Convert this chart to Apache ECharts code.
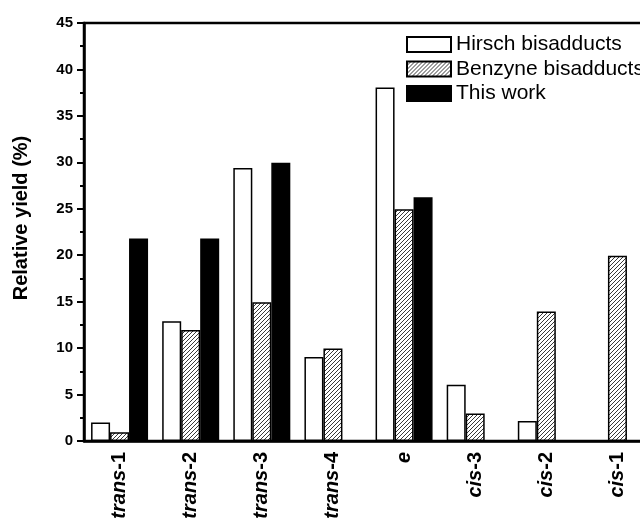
<!DOCTYPE html>
<html>
<head>
<meta charset="utf-8">
<script src="https://cdn.jsdelivr.net/npm/echarts@6/dist/echarts.min.js"></script>
<style>
  html, body { margin: 0; padding: 0; background: #fff; overflow: hidden; }
  #chart { width: 640px; height: 518px; }
</style>
</head>
<body>
<div id="chart"></div>
<script>
  // categories: [italic part, plain suffix]
  const categories = [
    ['trans', '-1'], ['trans', '-2'], ['trans', '-3'], ['trans', '-4'],
    ['e', ''], ['cis', '-3'], ['cis', '-2'], ['cis', '-1']
  ];
  const hirsch  = [2, 12.9, 29.4, 9.05, 38.05, 6.05, 2.15, '-'];
  const benzyne = [0.95, 11.95, 14.95, 9.95, 24.95, 2.95, 13.95, 19.95];
  const thisWork = [21.8, 21.8, 29.95, '-', 26.25, '-', '-', '-'];
  const seriesNames = ['Hirsch bisadducts', 'Benzyne bisadducts', 'This work'];

  const FONT = '"Liberation Sans", Arial, sans-serif';

  // hatch pattern ////
  function hatch () {
    const s = 4;
    const c = document.createElement('canvas');
    c.width = s; c.height = s;
    const g = c.getContext('2d');
    g.fillStyle = '#fff';
    g.fillRect(0, 0, s, s);
    g.strokeStyle = '#222';
    g.lineWidth = 0.9;
    g.beginPath();
    g.moveTo(-1, s + 1); g.lineTo(s + 1, -1);
    g.moveTo(-1, 1); g.lineTo(1, -1);
    g.moveTo(s - 1, s + 1); g.lineTo(s + 1, s - 1);
    g.stroke();
    return c;
  }

  const chart = echarts.init(document.getElementById('chart'), null, { renderer: 'canvas' });

  const barBase = {
    type: 'bar',
    barWidth: 19,
    barGap: '0%',
    animation: false
  };

  chart.setOption({
    backgroundColor: '#fff',
    textStyle: { fontFamily: FONT },
    grid: {
      left: 84, top: 23, width: 569, height: 418,
      outerBoundsMode: 'none',
      containLabel: false,
      show: true, borderColor: '#000', borderWidth: 2.5
    },
    legend: {
      orient: 'vertical',
      left: 406, top: 34,
      padding: 0,
      icon: 'rect',
      itemWidth: 44, itemHeight: 15,
      itemGap: 3.5,
      textStyle: { fontSize: 21, color: '#000', fontFamily: FONT },
      data: seriesNames
    },
    xAxis: {
      type: 'category',
      data: categories.map(c => c[0] + c[1]),
      axisLine: { lineStyle: { color: '#000', width: 2.5 } },
      axisTick: { alignWithLabel: true, length: 7, lineStyle: { color: '#000', width: 2.5 } },
      axisLabel: {
        rotate: 90,
        margin: 11,
        interval: 0,
        formatter: function (v, i) {
          const c = categories[i];
          return '{i|' + c[0] + '}' + (c[1] ? '{n|' + c[1] + '}' : '');
        },
        rich: {
          i: { fontSize: 20, fontWeight: 'bold', fontStyle: 'italic', color: '#000', fontFamily: FONT },
          n: { fontSize: 20, fontWeight: 'bold', color: '#000', fontFamily: FONT }
        }
      }
    },
    yAxis: {
      type: 'value',
      min: 0, max: 45, interval: 5,
      name: 'Relative yield (%)',
      nameLocation: 'middle',
      nameGap: 53,
      nameTextStyle: { fontSize: 20, fontWeight: 'bold', color: '#000', fontFamily: FONT, padding: [0, 0, 0, 28] },
      splitLine: { show: false },
      axisLine: { show: true, lineStyle: { color: '#000', width: 2.5 } },
      axisTick: { show: true, length: 7, lineStyle: { color: '#000', width: 2 } },
      minorTick: { show: true, splitNumber: 2, length: 4, lineStyle: { color: '#000', width: 2 } },
      axisLabel: { fontSize: 15, fontWeight: 'bold', color: '#000', margin: 11, fontFamily: FONT }
    },
    series: [
      Object.assign({}, barBase, {
        name: seriesNames[0], data: hirsch,
        itemStyle: { color: '#fff', borderColor: '#000', borderWidth: 1.5 }
      }),
      Object.assign({}, barBase, {
        name: seriesNames[1], data: benzyne,
        itemStyle: { color: { image: hatch(), repeat: 'repeat' }, borderColor: '#000', borderWidth: 1.5 }
      }),
      Object.assign({}, barBase, {
        name: seriesNames[2], data: thisWork,
        itemStyle: { color: '#000', borderColor: '#000', borderWidth: 1.5 }
      })
    ]
  });
</script>
</body>
</html>
